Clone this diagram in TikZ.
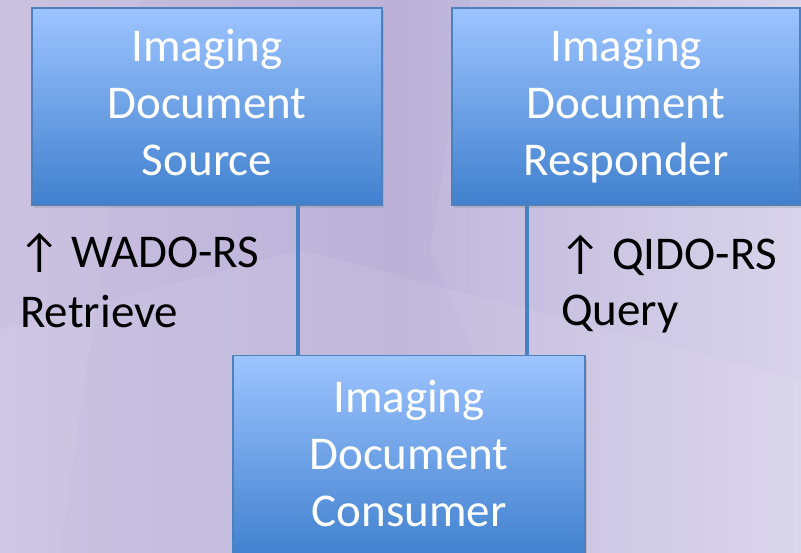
\documentclass[tikz,border=0pt]{standalone}
\usepackage{fontspec}
\setmainfont{Carlito}
\usetikzlibrary{calc,shadows}
\definecolor{bgL}{RGB}{200,191,224}
\definecolor{bgM}{RGB}{188,178,217}
\definecolor{bgR}{RGB}{214,210,234}
\definecolor{boxTop}{RGB}{157,196,255}
\definecolor{boxBot}{RGB}{64,128,206}
\definecolor{boxEdge}{RGB}{78,128,190}
\definecolor{connCol}{RGB}{72,128,196}
\newcommand{\tallstrut}{\vphantom{Ip}}
\tikzset{
  actor/.style={draw=boxEdge, line width=1.2pt, top color=boxTop, bottom color=boxBot,
    drop shadow={opacity=0.25, shadow xshift=2pt, shadow yshift=-3pt},
    text=white, align=center, inner sep=0pt,
    font=\fontsize{47}{57}\selectfont},
  conn/.style={draw=connCol, line width=4pt},
  lbl/.style={anchor=base west, inner sep=0pt, text=black, font=\fontsize{47}{57}\selectfont}
}
\begin{document}
\begin{tikzpicture}[x=1pt,y=1pt]
\useasboundingbox (0,0) rectangle (801,-553);
\begin{scope}
\clip (0,0) rectangle (801,-553);
\shade[left color=bgL, right color=bgR, middle color=bgM] (0,0) rectangle (801,-553);
\fill[white, opacity=0.07] (0,-330) -- (300,-250) -- (801,-380) -- (801,-553) -- (0,-553) -- cycle;
\fill[white, opacity=0.06] (470,0) -- (801,0) -- (801,-553) -- (560,-553) -- (430,-250) -- cycle;
\fill[white, opacity=0.06] (0,0) -- (140,0) -- (60,-553) -- (0,-553) -- cycle;

\node[actor, minimum width=350pt, minimum height=197pt] (src) at (207,-106.5)
  {\tallstrut Imaging\\Document\\Source\tallstrut};
\node[actor, minimum width=348pt, minimum height=197pt] (rsp) at (626,-106.5)
  {\tallstrut Imaging\\Document\\Responder\tallstrut};
\node[actor, minimum width=352pt, minimum height=203pt, anchor=north] (con) at (409,-355)
  {\tallstrut Imaging\\Document\\Consumer\tallstrut};

\coordinate (p1) at ($(src.south west)!0.76!(src.south east)$);
\coordinate (p2) at ($(rsp.south west)!0.2155!(rsp.south east)$);
\draw[conn] (p1) -- (p1 |- con.north);
\draw[conn] (p2) -- (p2 |- con.north);

\node[lbl] (wado) at (18,-268) {↑ WADO-RS};
\node[lbl] (retr) at (20,-328) {Retrieve};
\node[lbl] (qido) at (559,-270) {↑ QIDO-RS};
\node[lbl] (query) at (561,-326) {Query};
\end{scope}
\end{tikzpicture}
\end{document}
